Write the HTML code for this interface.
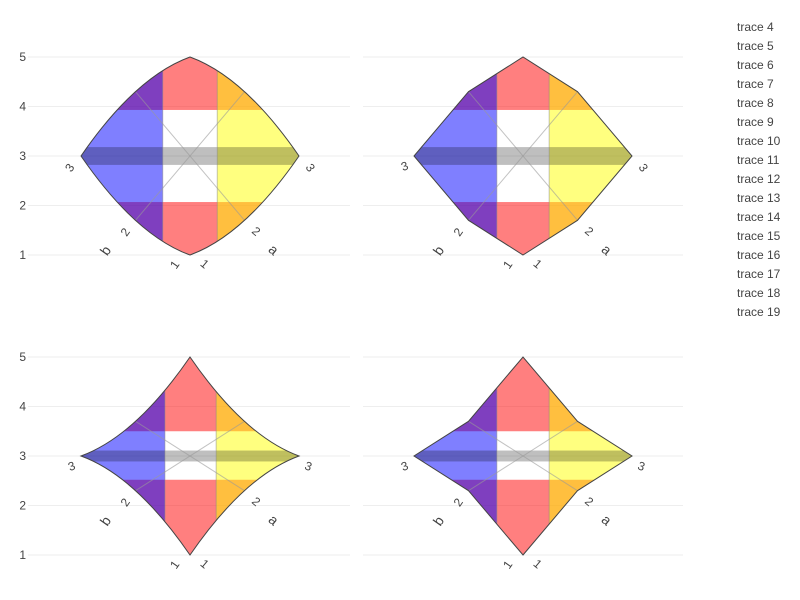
<!DOCTYPE html>
<html><head><meta charset="utf-8"><style>
body{margin:0;background:#fff}
svg{display:block;font-family:"Liberation Sans",sans-serif}
</style></head><body>
<svg id="c" width="800" height="600"></svg>
<script>
const yTicks=[1,2,3,4,5];
const kinkY=[1.7,1.7,2.3,2.3];
const curved=[true,false,true,false];
const stripLo=[2.07,2.07,2.52,2.52];
const stripHi=[3.93,3.93,3.5,3.5];
const bandXLo=[2.5,2.52,2.54,2.52];
const bandXHi=[3.5,3.48,3.48,3.48];
const grayHalf=[0.18,0.18,0.11,0.11];
const legendNames=["trace 4","trace 5","trace 6","trace 7","trace 8","trace 9","trace 10","trace 11","trace 12","trace 13","trace 14","trace 15","trace 16","trace 17","trace 18","trace 19"];
const NS="http://www.w3.org/2000/svg";
const svg=document.getElementById('c');
const panels=[{cx:190,y0:255,gx0:28,gx1:350,labels:true},{cx:523,y0:255,gx0:363,gx1:683,labels:false},{cx:190,y0:555,gx0:28,gx1:350,labels:true},{cx:523,y0:555,gx0:363,gx1:683,labels:false}];
function el(t,a,p){const e=document.createElementNS(NS,t);for(const k in a)e.setAttribute(k,a[k]);(p||svg).appendChild(e);return e;}
const defs=el('defs',{});
panels.forEach((P,i)=>{
  const X=x=>P.cx+(x-3)*54.5, Y=y=>P.y0-(y-1)*49.5;
  const g=el('g',{});
  
  
  yTicks.forEach(t=>{
    const l=el('line',{x1:P.gx0,x2:P.gx1,y1:Y(t),y2:Y(t),stroke:'#eee','stroke-width':1},g);
    
    
    if(P.labels){const tx=el('text',{x:P.gx0-2,y:Y(t)+4,'text-anchor':'end','font-size':12,fill:'#444'},g);tx.textContent=t;
      
      }
  });
  const k=kinkY[i];
  const pts=[[3,1],[4,k],[5,3],[4,6-k],[3,5],[2,6-k],[1,3],[2,k]].map(p=>[X(p[0]),Y(p[1])]);
  let d='M'+pts[0][0]+','+pts[0][1];
  for(let e=0;e<4;e++){
    const A=pts[2*e],M=pts[2*e+1],B=pts[(2*e+2)%8];
    if(curved[i]){const cxp=2*M[0]-(A[0]+B[0])/2,cyp=2*M[1]-(A[1]+B[1])/2;d+=' Q'+cxp+','+cyp+' '+B[0]+','+B[1];}
    else d+=' L'+M[0]+','+M[1]+' L'+B[0]+','+B[1];
  }
  d+='Z';
  const cp=el('clipPath',{id:'cp'+i},defs);el('path',{d},cp);
  const fg=el('g',{'clip-path':'url(#cp'+i+')'},g);
  const rect=(x0,x1,y0,y1,fill,op,name)=>{const r=el('rect',{x:X(x0),y:Y(y1),width:X(x1)-X(x0),height:Y(y0)-Y(y1),fill,'fill-opacity':op},fg);
    
    };
  rect(0,6,stripHi[i],6,'#ff0000',0.5,'red-fill-top');
  rect(0,6,0,stripLo[i],'#ff0000',0.5,'red-fill-bottom');
  rect(0,bandXLo[i],0,6,'#0000ff',0.5,'blue-fill');
  rect(bandXHi[i],6,0,6,'#ffff00',0.5,'yellow-fill');
  rect(0,6,3-grayHalf[i],3+grayHalf[i],'#000000',0.25,'gray-band');
  [bandXLo[i],bandXHi[i]].forEach(x=>el('line',{x1:X(x),x2:X(x),y1:0,y2:600,stroke:'#888','stroke-opacity':0.5,'stroke-width':1},fg));
  el('line',{x1:pts[1][0],y1:pts[1][1],x2:pts[5][0],y2:pts[5][1],stroke:'#999','stroke-opacity':0.6,'stroke-width':1},fg);
  el('line',{x1:pts[7][0],y1:pts[7][1],x2:pts[3][0],y2:pts[3][1],stroke:'#999','stroke-opacity':0.6,'stroke-width':1},fg);
  const o=el('path',{d,fill:'none',stroke:'#444','stroke-width':1},g);
  
  
  const lab=(x,y,t,rot,name,size)=>{const tx=el('text',{x,y,'text-anchor':'middle','font-size':size||12,fill:'#444',transform:'rotate('+rot+' '+x+' '+y+')'},g);tx.textContent=t;
    
    };
  const B=pts[0],R=pts[1],L=pts[7],RR=pts[2],LL=pts[6];
  lab(B[0]-12,B[1]+12,'1',-55,'b-tick-label');
  lab(B[0]+12,B[1]+12,'1',40,'a-tick-label');
  lab(L[0]-7,L[1]+14,'2',-55,'b-tick-label');
  lab(R[0]+9,R[1]+14,'2',40,'a-tick-label');
  lab(LL[0]-8,LL[1]+14,'3',curved[i]&&i<2?-55:-20,'b-tick-label');
  lab(RR[0]+8,RR[1]+14,'3',i<2?55:20,'a-tick-label');
  lab(L[0]-26,L[1]+33,'b',-55,'b-axis-title',14);
  lab(R[0]+26,R[1]+33,'a',40,'a-axis-title',14);
});
legendNames.forEach((n,j)=>{
  const t=el('text',{x:737,y:31+j*19,'font-size':12,fill:'#444'});t.textContent=n;
  
  
});
</script>
</body></html>
